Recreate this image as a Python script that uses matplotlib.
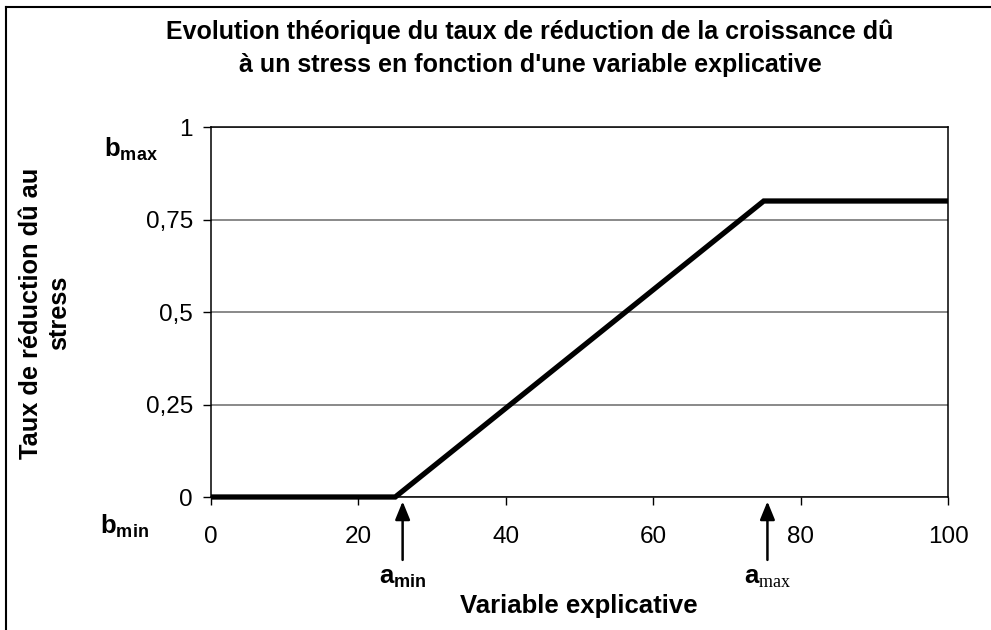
import matplotlib
matplotlib.use("Agg")
import matplotlib.pyplot as plt
from matplotlib.lines import Line2D

plt.rcParams['font.family'] = ['Liberation Sans', 'DejaVu Sans']
plt.rcParams['mathtext.fontset'] = 'custom'
plt.rcParams['mathtext.bf'] = 'Liberation Sans:bold'
plt.rcParams['mathtext.rm'] = 'Liberation Serif'
plt.rcParams['mathtext.it'] = 'Liberation Sans:italic'

# Data
x_vals = [0, 25, 75, 100]
y_vals = [0, 0, 0.8, 0.8]
x_ticks = [0, 20, 40, 60, 80, 100]
y_ticks = [0, 0.25, 0.5, 0.75, 1]
y_tick_labels = ['0', '0,25', '0,5', '0,75', '1']
arrow_x = [26, 75.5]
arrow_labels = [r'$\mathbf{a_{min}}$', r'$\mathbf{a}_{\mathrm{max}}$']
title = "Evolution théorique du taux de réduction de la croissance dû\nà un stress en fonction d'une variable explicative"
xlabel = "Variable explicative"
ylabel = "Taux de réduction dû au\nstress"

fig = plt.figure(figsize=(9.91, 6.30), dpi=100)
ax = fig.add_axes([211/991, 1-497/630, (948-211)/991, (497-127)/630])

ax.plot(x_vals, y_vals, color='black', lw=3.8, solid_capstyle='butt', solid_joinstyle='miter', zorder=3, clip_on=False)

ax.set_xlim(0, 100)
ax.set_ylim(0, 1)
ax.set_xticks(x_ticks)
ax.set_xticklabels([str(t) for t in x_ticks])
ax.set_yticks(y_ticks)
ax.set_yticklabels(y_tick_labels)
ax.tick_params(axis='x', direction='out', length=6, width=1, pad=15, labelsize=17.5)
ax.tick_params(axis='y', direction='out', length=6, width=1, pad=7, labelsize=17.5)
ax.grid(axis='y', color='#808080', lw=1.3)
ax.set_axisbelow(True)
for s in ax.spines.values():
    s.set_color('black')
    s.set_linewidth(1.1)

# arrows
for xa, lab in zip(arrow_x, arrow_labels):
    ax.annotate('', xy=(xa, -0.012), xytext=(xa, -0.17),
                xycoords='data', textcoords='data',
                arrowprops=dict(arrowstyle='-|>,head_length=1.1,head_width=0.45',
                                color='black', lw=1.8, shrinkA=0, shrinkB=0),
                annotation_clip=False)
    ax.text(xa, -0.22, lab, ha='center', va='center', fontsize=18.5)

# b labels
ax.text(-0.109, 0.94, r'$\mathbf{b_{max}}$', transform=ax.transAxes, ha='center', va='center', fontsize=18.5)
ax.text(-0.117, -0.08, r'$\mathbf{b_{min}}$', transform=ax.transAxes, ha='center', va='center', fontsize=18.5)

fig.text(579/991, 1-606/630, xlabel, ha='center', va='center', fontsize=18.5, fontweight='bold')
fig.text(45/991, 1-313/630, ylabel, ha='center', va='center', fontsize=18.3, fontweight='bold', rotation=90, linespacing=1.2)
fig.text(530/991, 1-48/630, title, ha='center', va='center', fontsize=18, fontweight='bold', linespacing=1.45)

# figure border (left and top)
fig.add_artist(Line2D([6/991, 6/991], [0, 1-7/630], transform=fig.transFigure, color='black', lw=1.5))
fig.add_artist(Line2D([6/991, 1], [1-7/630, 1-7/630], transform=fig.transFigure, color='black', lw=1.5))

fig.savefig('out.png', dpi=100)
